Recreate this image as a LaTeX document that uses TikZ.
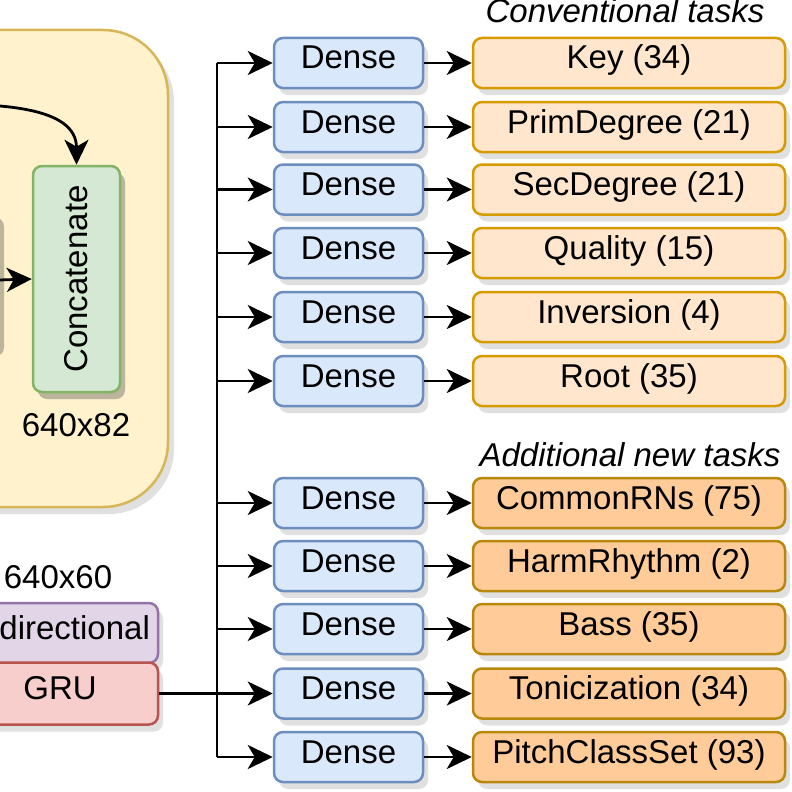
\documentclass[tikz,border=0pt]{standalone}
\usepackage{fontspec}
\usepackage{graphicx}
\setmainfont{Liberation Sans}
\usetikzlibrary{arrows.meta,positioning,shadows}

\definecolor{denseFill}{HTML}{DAE8FC}
\definecolor{denseLine}{HTML}{6C8EBF}
\definecolor{convFill}{HTML}{FFE6CC}
\definecolor{convLine}{HTML}{D79B00}
\definecolor{addFill}{HTML}{FFCC99}
\definecolor{addLine}{HTML}{B8880C}
\definecolor{catFill}{HTML}{D5E8D4}
\definecolor{catLine}{HTML}{82B366}
\definecolor{encFill}{HTML}{FFF2CC}
\definecolor{encLine}{HTML}{D6B656}
\definecolor{biFill}{HTML}{E1D5E7}
\definecolor{biLine}{HTML}{9673A6}
\definecolor{gruFill}{HTML}{F8CECC}
\definecolor{gruLine}{HTML}{B85450}
\definecolor{shadowGray}{HTML}{E0E0E0}
\definecolor{shadowTan}{HTML}{BDB59B}

\tikzset{
    box/.style={draw, rounded corners=9pt, line width=2.5pt, inner sep=0pt,
        minimum height=50pt, text height=23pt, text depth=11pt,
        font=\fontsize{33}{40}\selectfont,
        drop shadow={shadow xshift=5pt, shadow yshift=-7pt, fill=shadowGray, opacity=1}},
    densebox/.style={box, fill=denseFill, draw=denseLine, minimum width=149pt},
    convbox/.style={box, fill=convFill, draw=convLine, minimum width=312pt},
    addbox/.style={box, fill=addFill, draw=addLine, minimum width=312pt},
    txt/.style={font=\fontsize{33}{40}\selectfont, inner sep=0pt, anchor=base},
    arr/.style={line width=2.8pt, -{Stealth[length=25pt, width=24pt, inset=7pt]}},
    wire/.style={line width=2.8pt}
}

\begin{document}
\begin{tikzpicture}[x=1pt, y=-1pt]
    \clip (0,0) rectangle (792,792);

    % encoder block
    \node[draw=encLine, fill=encFill, line width=2.5pt, rounded corners=65pt,
        minimum width=268pt, minimum height=477pt,
        drop shadow={shadow xshift=6pt, shadow yshift=-7pt, fill=shadowGray, opacity=1}]
        (enc) at (34,268.5) {};
    \node[minimum width=60pt, minimum height=139pt, rounded corners=9pt,
        drop shadow={shadow xshift=5pt, shadow yshift=-7pt, fill=shadowTan, opacity=1}]
        (prev) at (-31,280) {};
    \node[box, fill=catFill, draw=catLine, minimum width=87pt, minimum height=226pt,
        text height=, text depth=,
        drop shadow={shadow xshift=5pt, shadow yshift=-7pt, fill=shadowTan, opacity=1}]
        (concat) at (76.5,279) {\rotatebox{90}{Concatenate}};
    \node[txt] (catdim) at (76,436.5) {640x82};
    \coordinate (skip) at (-60,104);

    \draw[arr] (prev.east) -- (concat.west);
    \draw[arr] (skip) to[out=0, in=90] (concat.north);

    % recurrent layer
    \node[txt] (grudim) at (58,588) {640x60};
    \node[box, fill=biFill, draw=biLine, minimum width=196pt, minimum height=60pt]
        (bidir) at (60,633) {Bidirectional};
    \node[box, fill=gruFill, draw=gruLine, minimum width=196pt, minimum height=62pt]
        (gru) at (60,693.5) {GRU};

    % task heads
    \node[txt, font=\fontsize{33}{40}\selectfont\itshape] (convtitle) at (625,23) {Conventional tasks};
    \node[txt, font=\fontsize{33}{40}\selectfont\itshape] (addtitle) at (630,466) {Additional new tasks};

    \foreach \i/\y/\task in {1/63/Key (34), 2/127/PrimDegree (21), 3/189.5/SecDegree (21),
        4/253/Quality (15), 5/317/Inversion (4), 6/381/Root (35)} {
        \coordinate (b\i) at (217,\y);
        \node[densebox] (dense\i) at (348.5,\y) {Dense};
        \node[convbox] (task\i) at (629,\y) {\task};
        \draw[arr] (b\i) -- (dense\i);
        \draw[arr] (dense\i) -- (task\i);
    }
    \foreach \i/\y/\task in {7/503/CommonRNs (75), 8/566/HarmRhythm (2), 9/629/Bass (35),
        10/693.5/Tonicization (34), 11/757/PitchClassSet (93)} {
        \coordinate (b\i) at (217,\y);
        \node[densebox] (dense\i) at (348.5,\y) {Dense};
        \node[addbox] (task\i) at (629,\y) {\task};
        \draw[arr] (b\i) -- (dense\i);
        \draw[arr] (dense\i) -- (task\i);
    }

    \draw[wire] (b1) -- (b11);
    \draw[wire] (gru.east) -- (b10);
\end{tikzpicture}
\end{document}
